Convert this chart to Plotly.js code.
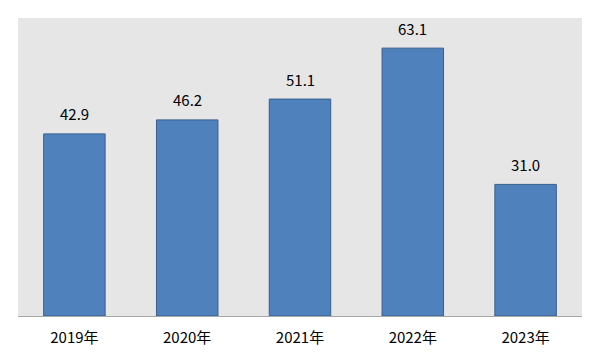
<!DOCTYPE html>
<html>
<head>
<meta charset="utf-8">
<script src="https://cdn.plot.ly/plotly-3.0.1.min.js"></script>
<style>html,body{margin:0;padding:0;background:#fff;}#chart{width:600px;height:360px;}</style>
</head>
<body>
<div id="chart"></div>
<script>
const categories = ["2019年", "2020年", "2021年", "2022年", "2023年"];
const values = [42.9, 46.2, 51.1, 63.1, 31.0];
const labels = ["42.9", "46.2", "51.1", "63.1", "31.0"];

const fontFamily = '"Noto Sans CJK SC", "Noto Sans", sans-serif';

const trace = {
  type: 'bar',
  x: categories,
  y: values,
  marker: { color: '#4f81bd', line: { color: '#3a5f8c', width: 1 } },
  hoverinfo: 'none'
};

const annotations = categories.map((c, i) => ({
  x: c, y: values[i], text: labels[i],
  showarrow: false, yanchor: 'middle', yshift: 20,
  font: { family: fontFamily, size: 15, color: '#000' }
}));

const layout = {
  width: 600, height: 360,
  margin: { l: 18, r: 18, t: 18, b: 44 },
  paper_bgcolor: '#ffffff',
  plot_bgcolor: '#e6e6e6',
  bargap: 0.455,
  showlegend: false,
  xaxis: {
    type: 'category',
    showline: true, linecolor: '#a6a6a6', linewidth: 1,
    ticks: '', showgrid: false, zeroline: false,
    tickfont: { family: fontFamily, size: 15, color: '#000' },
    ticklabelstandoff: 8
  },
  yaxis: {
    range: [0, 70.2], visible: false, showgrid: false, zeroline: false
  },
  annotations: annotations
};

Plotly.newPlot('chart', [trace], layout, { displayModeBar: false, staticPlot: true });
</script>
</body>
</html>
